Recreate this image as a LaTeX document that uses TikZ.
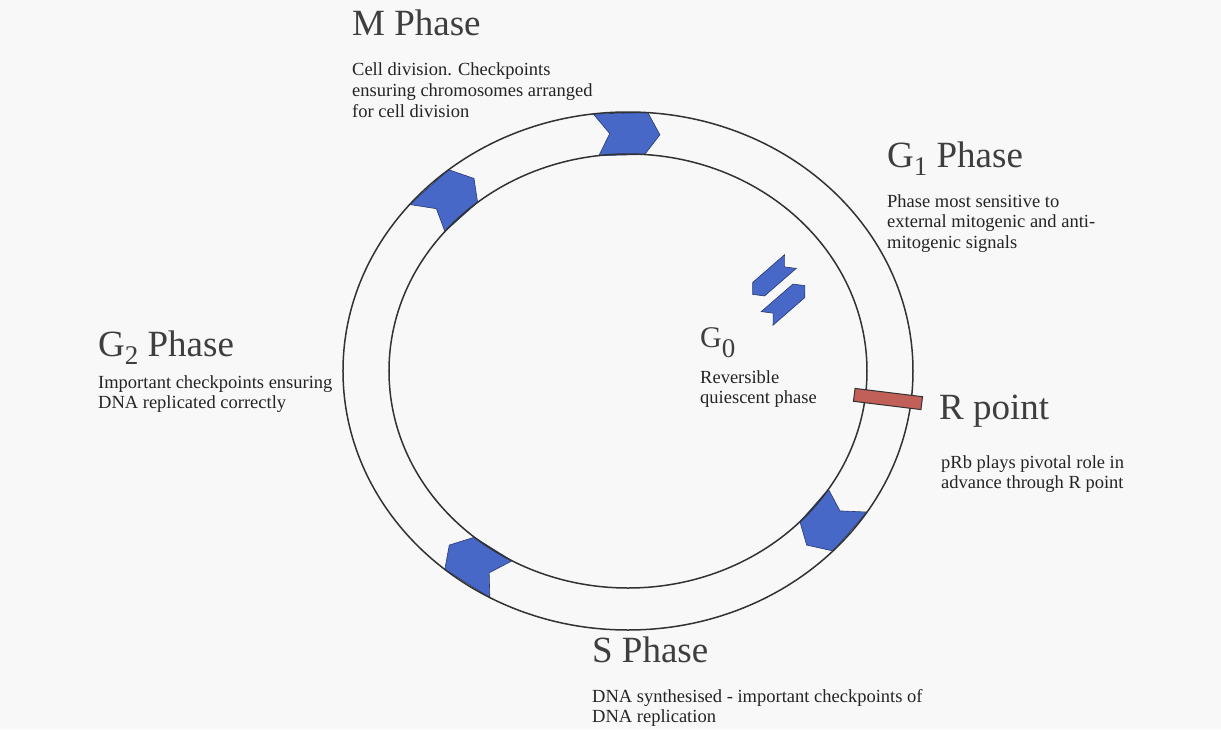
\documentclass[tikz,border=0pt]{standalone}
\usepackage{fontspec}
\setmainfont{Liberation Serif}
\usepackage{tikz}
\usetikzlibrary{positioning, calc}
\definecolor{chevblue}{RGB}{72,104,200}
\definecolor{rpointred}{RGB}{192,96,88}
\definecolor{ringline}{RGB}{50,50,50}
\definecolor{paper}{RGB}{248,248,248}
\definecolor{headtext}{RGB}{62,62,62}
\definecolor{notetext}{RGB}{36,36,36}
% lowered digit for the phase names
\newcommand{\subdig}[2]{\raisebox{-#2pt}{\fontsize{27}{27}\selectfont #1}}
% chevron sitting in the ring, pointing clockwise
\newcommand{\ringchevron}[1]{%
  \filldraw[chev] (#1+5.5:285 and 259) -- (#1-5.5:285 and 259) -- (#1-8.5:262 and 238)
    -- (#1-5.5:239 and 217) -- (#1+5.5:239 and 217) -- (#1+2.5:262 and 238) -- cycle;}
% small free chevron (G0)
\newcommand{\freechevron}[3]{%
  \begin{scope}[shift={(#1,#2)}, rotate=#3]
    \filldraw[chev] (-25,9) -- (17,9) -- (25,0) -- (17,-9) -- (-25,-9) -- (-17,0) -- cycle;
  \end{scope}}

\begin{document}
\begin{tikzpicture}[x=1pt, y=1pt,
    phase/.style={anchor=base west, inner sep=0pt, text=headtext, font=\fontsize{37}{44}\selectfont},
    note/.style={anchor=base west, inner sep=0pt, align=left, text=notetext, font=\fontsize{18.5}{20.8}\selectfont},
    chev/.style={fill=chevblue, draw=chevblue!55!black, line width=0.6pt}]
    \fill[paper] (-628,-358) rectangle (593,371);
    \useasboundingbox (-628,-358) rectangle (593,371);
    % checkpoints in the ring
    \foreach \a in {91.5, 134.5, 235.5, 321.5} {\ringchevron{\a}}
    \draw[ringline, line width=1.5pt] (0,0) ellipse [x radius=285, y radius=259];
    \draw[ringline, line width=1.5pt] (0,0) ellipse [x radius=239, y radius=217];
    \node[draw=ringline, line width=1pt, fill=rpointred, minimum width=68, minimum height=13, inner sep=0pt, rotate=-7] (rbar) at (260,-28) {};
    % G0 exit and return
    \freechevron{143.5}{93}{221}
    \freechevron{158}{69}{41}
    % labels (notes sit on their last line)
    \node[phase] (mphase) at (-276,335) {M Phase};
    \node[note] (mnote) at (-276,253.4) {Cell division. Checkpoints\\ensuring chromosomes arranged\\for cell division};
    \node[phase] (gonephase) at (259,204) {G\subdig{1}{8} Phase};
    \node[note] (gonenote) at (259,122.4) {Phase most sensitive to\\external mitogenic and anti-\\mitogenic signals};
    \node[phase] (gtwophase) at (-530,15) {G\subdig{2}{8} Phase};
    \node[note] (gtwonote) at (-530,-37.8) {Important checkpoints ensuring\\DNA replicated correctly};
    \node[phase, font=\fontsize{30}{36}\selectfont] (gzero) at (72,24) {G\subdig{0}{10}};
    \node[note] (gzeronote) at (72,-32.8) {Reversible\\quiescent phase};
    \node[phase] (rpoint) at (311,-48) {R point};
    \node[note] (rnote) at (313,-117.8) {pRb plays pivotal role in\\advance through R point};
    \node[phase] (sphase) at (-36,-291) {S Phase};
    \node[note] (snote) at (-36,-351.8) {DNA synthesised - important checkpoints of\\DNA replication};
\end{tikzpicture}
\end{document}
